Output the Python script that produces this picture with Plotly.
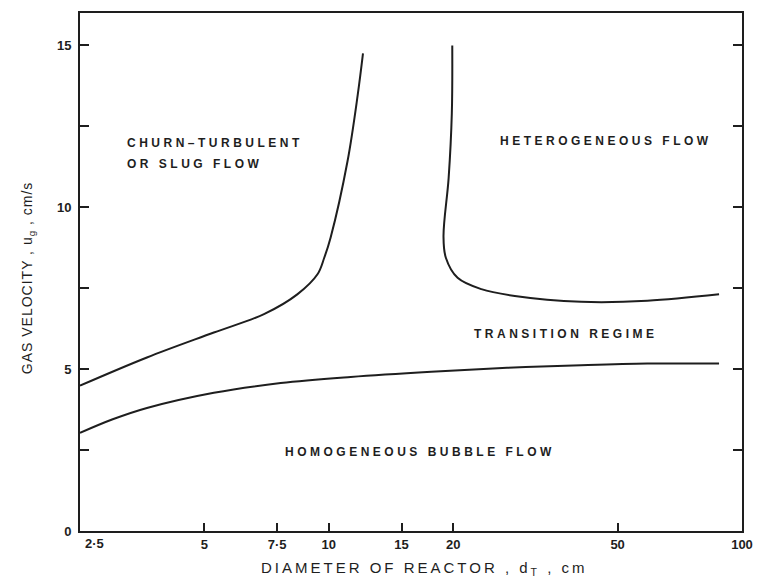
import numpy as np
import plotly.graph_objects as go

# ---- data ----
dia_homog = [2.5, 3.0, 3.63, 5.27, 7.65, 11.3, 17.7, 27.0, 40.8, 59.0, 88.0]
ug_homog = [3.03, 3.45, 3.80, 4.27, 4.57, 4.76, 4.92, 5.04, 5.12, 5.17, 5.17]

dia_churn = [2.5, 3.63, 5.27, 6.97, 8.39, 9.39, 9.75, 10.1, 11.1, 11.75, 12.1]
ug_churn = [4.49, 5.36, 6.13, 6.70, 7.31, 7.93, 8.44, 9.06, 11.42, 13.47, 14.75]

dia_het = [19.9, 19.85, 19.5, 18.95, 19.2, 20.5, 23.4, 28.2, 40.8, 59.0, 88.0]
ug_het = [15.0, 12.9, 10.9, 9.1, 8.44, 7.82, 7.47, 7.26, 7.08, 7.11, 7.31]

x_tickvals = [2.5, 5, 7.5, 10, 15, 20, 50, 100]
x_ticktext = ["2·5", "5", "7·5", "10", "15", "20", "50", "100"]
y_tickvals = [0, 2.5, 5, 7.5, 10, 12.5, 15]
y_ticktext = ["0", "", "5", "", "10", "", "15"]

region_labels = ["CHURN–TURBULENT", "OR SLUG FLOW", "HETEROGENEOUS FLOW",
                 "TRANSITION REGIME", "HOMOGENEOUS BUBBLE FLOW"]
region_x = [3.21, 3.21, 46.9, 37.4, 16.6]
region_y = [11.97, 11.35, 12.06, 6.09, 2.43]
region_anchor = ["left", "left", "center", "center", "center"]

x_title = "DIAMETER OF REACTOR , d<sub>T</sub> , cm"
y_title = "GAS VELOCITY , u<sub>g</sub> , cm/s"

INK = "#1e1e1e"

fig = go.Figure()
for xs, ys in [(dia_homog, ug_homog), (dia_churn, ug_churn), (dia_het, ug_het)]:
    fig.add_trace(go.Scatter(x=xs, y=ys, mode="lines",
                             line=dict(color=INK, width=2, shape="spline", smoothing=1.0),
                             showlegend=False, hoverinfo="skip"))

tick_font = dict(family="Liberation Sans", size=13, color=INK, weight="bold")

fig.update_xaxes(type="log", range=[np.log10(2.5), 2],
                 tickvals=x_tickvals, ticktext=[""] + x_ticktext[1:],
                 ticks="inside", ticklen=8, tickwidth=2, tickcolor=INK,
                 showline=True, linecolor=INK, linewidth=2, mirror=True,
                 showgrid=False, zeroline=False, tickfont=tick_font)
fig.update_yaxes(range=[0, 16], tickvals=y_tickvals, ticktext=y_ticktext,
                 ticks="inside", ticklen=9, tickwidth=2, tickcolor=INK,
                 showline=True, linecolor=INK, linewidth=2, mirror="ticks",
                 showgrid=False, zeroline=False, tickfont=tick_font,
                 ticklabelstandoff=4)

anns = []
for txt, xv, yv, anc in zip(region_labels, region_x, region_y, region_anchor):
    anns.append(dict(x=np.log10(xv), y=yv, xref="x", yref="y",
                     text=f'<span style="letter-spacing:3.5px">{txt}</span>',
                     showarrow=False, xanchor=anc, yanchor="middle",
                     font=dict(family="Liberation Sans", size=12, color=INK, weight="bold")))
# first x tick label sits slightly to the right of the corner
anns.append(dict(x=np.log10(x_tickvals[0]), y=0, xref="x", yref="paper",
                 text=x_ticktext[0], showarrow=False, xanchor="center", yanchor="top",
                 xshift=14, yshift=-3, font=tick_font))
anns.append(dict(x=0.52, y=0, xref="paper", yref="paper",
                 text=f'<span style="letter-spacing:3px">{x_title}</span>',
                 showarrow=False, xanchor="center", yanchor="middle", yshift=-37,
                 font=dict(family="Liberation Sans", size=15, color=INK)))
anns.append(dict(x=0, y=0.488, xref="paper", yref="paper",
                 text=f'<span style="letter-spacing:1px">{y_title}</span>',
                 showarrow=False, xanchor="center", yanchor="middle", xshift=-52,
                 textangle=-90,
                 font=dict(family="Liberation Sans", size=14, color=INK)))

# page body adds an 8px offset; margins compensate so the plot box lands at 80..742 x 11..531
fig.update_layout(width=775, height=579, margin=dict(l=72, r=41, t=3, b=56),
                  paper_bgcolor="white", plot_bgcolor="white", annotations=anns)

fig.write_html("out.html")
